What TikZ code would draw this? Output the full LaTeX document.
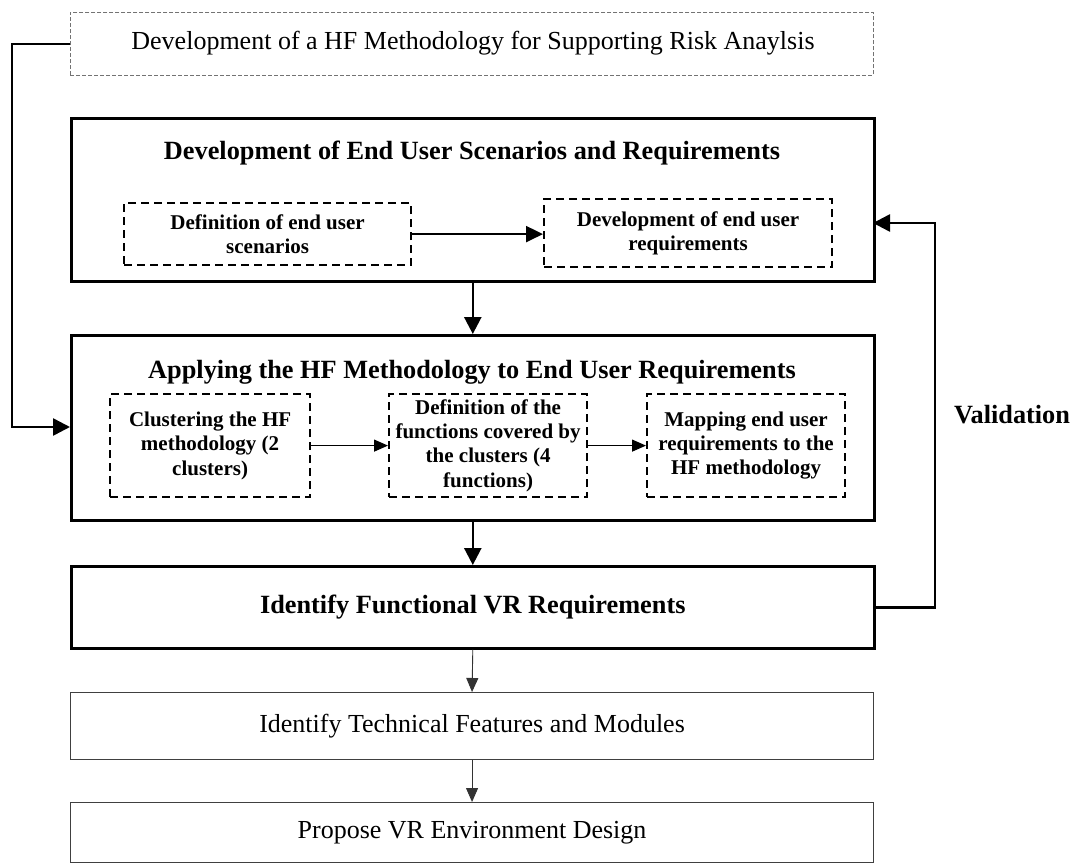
\documentclass[tikz,border=0pt]{standalone}
\usepackage{fontspec}
\setmainfont{Liberation Serif}
\usetikzlibrary{arrows.meta}

\tikzset{
  box/.style={rectangle, inner sep=0pt, anchor=north west},
  mainbox/.style={box, draw=black, line width=2.6pt},
  subbox/.style={box, draw=black, line width=2.2pt, dash pattern=on 8pt off 5pt},
  headbox/.style={box, draw=black!55, line width=0.9pt, dash pattern=on 4pt off 2pt},
  plainbox/.style={box, draw=black!75, line width=1.1pt},
  bigtxt/.style={font=\fontsize{26}{31}\selectfont, inner sep=0pt},
  boldtxt/.style={font=\fontsize{26.3}{31}\selectfont\bfseries, inner sep=0pt},
  subtxt/.style={font=\fontsize{21}{24.4}\selectfont\bfseries, align=center, inner sep=0pt},
  thickconn/.style={draw=black, line width=2.6pt, -{Triangle[length=17pt, width=17pt]}},
  midconn/.style={draw=black, line width=2.2pt, -{Triangle[length=17pt, width=16pt]}},
  thinconn/.style={draw=black, line width=1.2pt, -{Triangle[length=14pt, width=12pt]}},
  hairconn/.style={draw=black!80, line width=0.9pt, -{Triangle[length=14pt, width=12pt]}}
}

\begin{document}
\begin{tikzpicture}[x=1pt, y=-1pt]
\useasboundingbox (0,0) rectangle (1077,864);

% overall methodology box
\node[headbox, minimum width=803pt, minimum height=63pt] (top) at (70,12) {};
\node[bigtxt] (toptxt) at (473,43) {Development of a HF Methodology for Supporting Risk Anaylsis};

% stage 1: scenarios and requirements
\node[mainbox, minimum width=803pt, minimum height=163pt] (A) at (70,117) {};
\node[boldtxt] (Atitle) at (472,153) {Development of End User Scenarios and Requirements};
\node[subbox, minimum width=287pt, minimum height=62pt] (a1) at (123,202) {};
\node[subtxt] (a1txt) at (a1.center) {Definition of end user\\scenarios};
\node[subbox, minimum width=288pt, minimum height=68pt] (a2) at (543,198) {};
\node[subtxt] (a2txt) at (a2.center) {Development of end user\\requirements};

% stage 2: applying the methodology
\node[mainbox, minimum width=803pt, minimum height=185pt] (B) at (70,334) {};
\node[boldtxt] (Btitle) at (472,372) {Applying the HF Methodology to End User Requirements};
\node[subbox, minimum width=200pt, minimum height=103pt] (b1) at (109,393) {};
\node[subtxt] (b1txt) at (b1.center) {Clustering the HF\\methodology (2\\clusters)};
\node[subbox, minimum width=198pt, minimum height=103pt] (b2) at (388,393) {};
\node[subtxt] (b2txt) at (b2.center) {Definition of the\\functions covered by\\the clusters (4\\functions)};
\node[subbox, minimum width=198pt, minimum height=103pt] (b3) at (646,393) {};
\node[subtxt] (b3txt) at (b3.center) {Mapping end user\\requirements to the\\HF methodology};

% stage 3 onwards
\node[mainbox, minimum width=803pt, minimum height=82pt] (C) at (70,565) {};
\node[boldtxt] (Ctxt) at (C.center) {Identify Functional VR Requirements};
\node[plainbox, minimum width=803pt, minimum height=67pt] (D) at (70,692) {};
\node[bigtxt] (Dtxt) at (D.center) {Identify Technical Features and Modules};
\node[plainbox, minimum width=803pt, minimum height=60pt] (E) at (70,802) {};
\node[bigtxt] (Etxt) at (E.center) {Propose VR Environment Design};

% flow between stages
\draw[thickconn] (A.south) -- (B.north);
\draw[thickconn] (B.south) -- (C.north);
\draw[hairconn] (C.south) -- (D.north);
\draw[hairconn] (D.south) -- (E.north);

% flow inside stages
\draw[midconn] (a1.east) -- (a1.east -| a2.west);
\draw[thinconn] (b1.east) -- (b2.west);
\draw[thinconn] (b2.east) -- (b3.west);

% methodology feeds stage 2
\coordinate (lx) at (12,0);
\coordinate (bin) at (70,427);
\draw[thickconn] (top.west) -- (top.west -| lx) -- (lx |- bin) -- (bin);

% validation loop
\coordinate (vx) at (935,0);
\coordinate (ain) at (873,223);
\draw[thickconn] (C.east) -- (C.east -| vx) -- (vx |- ain) -- (ain);
\node[boldtxt] (val) at (1012,415) {Validation};
\end{tikzpicture}
\end{document}
